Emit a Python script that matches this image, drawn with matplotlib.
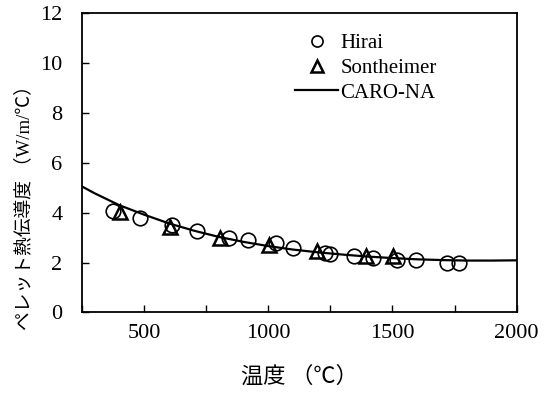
import matplotlib.pyplot as plt

# fonts: serif for latin text, Noto CJK for the japanese characters
plt.rcParams['font.family'] = ['Liberation Serif', 'Noto Sans CJK JP']

# Hirai data (circles)
hirai_x = [375, 484, 613, 712, 843, 920, 1030, 1100, 1230, 1250, 1344, 1420, 1520, 1593, 1720, 1767]
hirai_y = [4.08, 3.78, 3.49, 3.27, 2.97, 2.91, 2.77, 2.57, 2.37, 2.36, 2.27, 2.20, 2.10, 2.09, 2.00, 2.00]

# Sontheimer data (triangles)
sont_x = [402, 604, 805, 1003, 1198, 1395, 1504]
sont_y = [4.03, 3.42, 3.00, 2.72, 2.45, 2.26, 2.26]

# CARO-NA curve
caro_x = [250, 300, 400, 500, 600, 700, 800, 900, 1000, 1100, 1200, 1300, 1400, 1500, 1600, 1700, 1800, 1900, 2000]
caro_y = [5.05, 4.78, 4.30, 3.92, 3.57, 3.28, 3.03, 2.83, 2.66, 2.52, 2.41, 2.32, 2.24, 2.18, 2.13, 2.10, 2.08, 2.08, 2.09]

x_ticks = [250, 500, 750, 1000, 1250, 1500, 1750, 2000]
x_labels = ['', '500', '', '1000', '', '1500', '', '2000']
y_ticks = [0, 2, 4, 6, 8, 10, 12]

fig = plt.figure(figsize=(5.44, 3.94), dpi=100)
ax = fig.add_axes([0.1507, 0.2069, 0.7991, 0.7601])

ax.plot(hirai_x, hirai_y, 'o', ms=10.5, mfc='none', mec='black', mew=1.2, label='Hirai')
ax.plot(sont_x, sont_y, '^', ms=10.5, mfc='none', mec='black', mew=1.8, label='Sontheimer')
ax.plot(caro_x, caro_y, '-', color='black', lw=1.6, label='CARO-NA')

ax.set_xlim(250, 2000)
ax.set_ylim(0, 12)
ax.set_xticks(x_ticks)
ax.set_xticklabels(x_labels)
ax.set_yticks(y_ticks)
ax.tick_params(direction='in', length=5, width=1, labelsize=16, pad=8)
ax.tick_params(axis='y', pad=14)
for s in ax.spines.values():
    s.set_linewidth(1.3)

ax.set_xlabel('温度 （℃）', fontsize=16, labelpad=17)
ax.set_ylabel('ペレット熱伝導度 （W/m/℃）', fontsize=13.5)
ax.yaxis.set_label_coords(-0.113, 0.365)

leg = ax.legend(loc='upper right', bbox_to_anchor=(0.85, 0.98), frameon=False, fontsize=15,
                handlelength=2.1, handletextpad=0.1, labelspacing=0.25, borderpad=0.2)
for h in leg.legend_handles[:2]:
    h.set_markersize(8)

fig.savefig('out.png', dpi=100)
